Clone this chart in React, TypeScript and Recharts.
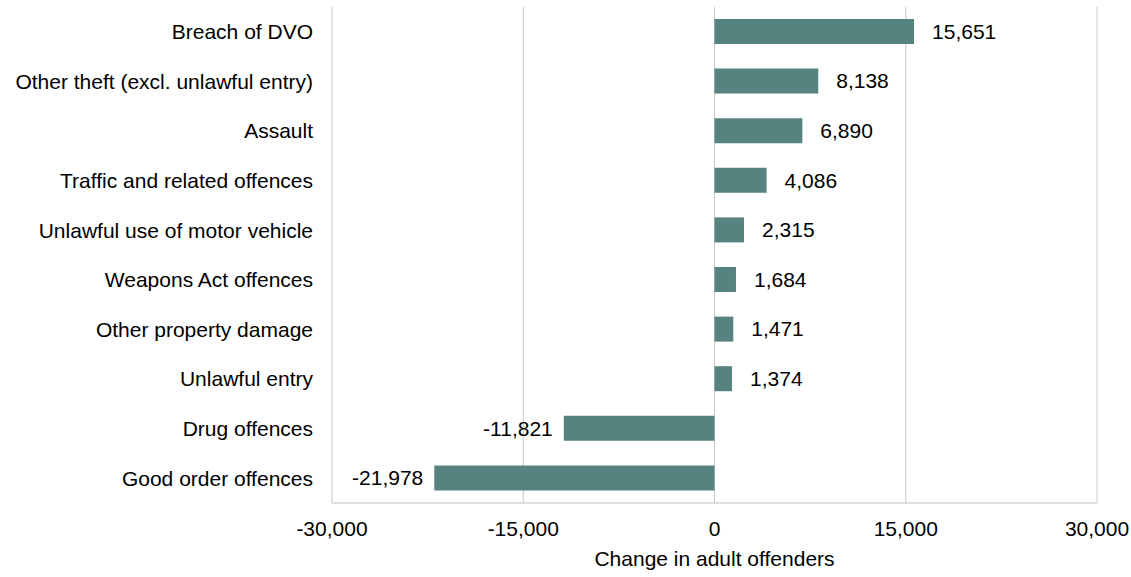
import { BarChart, Bar, XAxis, YAxis, CartesianGrid, LabelList, Label } from 'recharts';

const OFFENCES = [
  'Breach of DVO',
  'Other theft (excl. unlawful entry)',
  'Assault',
  'Traffic and related offences',
  'Unlawful use of motor vehicle',
  'Weapons Act offences',
  'Other property damage',
  'Unlawful entry',
  'Drug offences',
  'Good order offences',
];

const CHANGE = [15651, 8138, 6890, 4086, 2315, 1684, 1471, 1374, -11821, -21978];

const X_TICKS = [-30000, -15000, 0, 15000, 30000];

const DATA = OFFENCES.map((name, i) => ({ name, change: CHANGE[i] }));

const FONT = '"Liberation Sans", Arial, sans-serif';
const FS = 21;
const fmt = (v: number) => v.toLocaleString('en-US');

function ValueLabel(props: any) {
  const { x, y, width, height, value } = props;
  const neg = value < 0;
  const end = x + width;
  return (
    <text
      x={neg ? end - 11 : end + 18}
      y={y + height / 2}
      dy="0.35em"
      textAnchor={neg ? 'end' : 'start'}
      fontSize={FS}
      fontFamily={FONT}
      fill="#000"
    >
      {fmt(value)}
    </text>
  );
}

export default function App() {
  return (
    <div style={{ width: 1131, height: 577, background: '#fff' }}>
      <style>{'body{margin:0}'}</style>
      <BarChart
        width={1131}
        height={577}
        data={DATA}
        layout="vertical"
        margin={{ top: 7, right: 34, bottom: 0, left: 0 }}
      >
        <CartesianGrid horizontal={false} stroke="#c8c8c8" />
        <XAxis
          type="number"
          domain={[-30000, 30000]}
          ticks={X_TICKS}
          tickFormatter={fmt}
          height={74}
          tickLine={false}
          tickSize={0}
          tickMargin={18}
          axisLine={{ stroke: '#c0c0c0' }}
          tick={{ fontSize: FS, fontFamily: FONT, fill: '#000' }}
        >
          <Label
            value="Change in adult offenders"
            position="insideBottom"
            offset={11}
            style={{ fontSize: FS, fontFamily: FONT, fill: '#000' }}
          />
        </XAxis>
        <YAxis
          type="category"
          dataKey="name"
          width={332}
          tickLine={false}
          axisLine={false}
          tickSize={0}
          tickMargin={19}
          interval={0}
          tick={{ fontSize: FS, fontFamily: FONT, fill: '#000' }}
        />
        <Bar dataKey="change" fill="#568280" barSize={25} isAnimationActive={false}>
          <LabelList dataKey="change" content={ValueLabel} />
        </Bar>
      </BarChart>
    </div>
  );
}
